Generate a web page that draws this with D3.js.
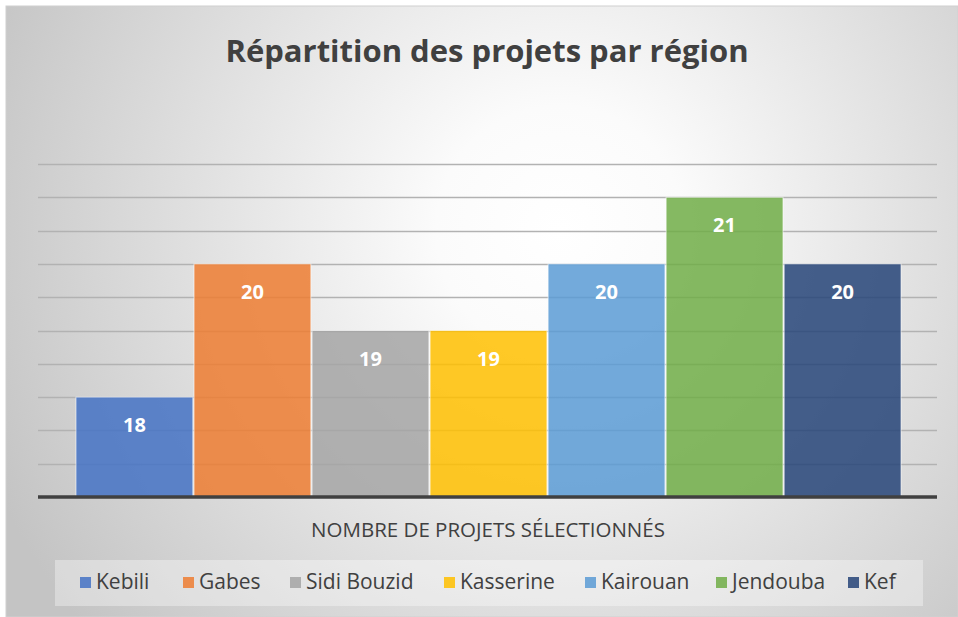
<!DOCTYPE html>
<html>
<head>
<meta charset="utf-8">
<script src="https://cdn.jsdelivr.net/npm/d3@7"></script>
<style>
  body { margin: 0; background: #fff; }
  svg text { font-family: "Open Sans", sans-serif; }
</style>
</head>
<body>
<svg id="chart"></svg>
<script>
const regions = ['Kebili', 'Gabes', 'Sidi Bouzid', 'Kasserine', 'Kairouan', 'Jendouba', 'Kef'];
const projets = [18, 20, 19, 19, 20, 21, 20];
const couleurs = ['#4472C4', '#ED7D31', '#A5A5A5', '#FFC000', '#5B9BD5', '#70AD47', '#264478'];
const yTicks = [17, 17.5, 18, 18.5, 19, 19.5, 20, 20.5, 21, 21.5];
const titre = 'Répartition des projets par région';
const axeTitre = 'NOMBRE DE PROJETS SÉLECTIONNÉS';

const width = 958, height = 617;
const svg = d3.select('#chart').attr('width', width).attr('height', height);

// fond avec dégradé radial
const defs = svg.append('defs');
const grad = defs.append('radialGradient')
    .attr('id', 'bg')
    .attr('gradientUnits', 'userSpaceOnUse')
    .attr('cx', 560).attr('cy', 230).attr('r', 620);
grad.append('stop').attr('offset', '0%').attr('stop-color', '#ffffff');
grad.append('stop').attr('offset', '20%').attr('stop-color', '#fbfbfb');
grad.append('stop').attr('offset', '100%').attr('stop-color', '#c4c4c4');

svg.append('rect')
    .attr('x', 6).attr('y', 6)
    .attr('width', width - 6).attr('height', height - 6)
    .attr('fill', 'url(#bg)')
    .attr('stroke', '#d0d0d0');

const plotLeft = 38, plotRight = 937;

const y = d3.scaleLinear().domain([16.5, 21.5]).range([497, 164]);
const x = d3.scaleBand().domain(regions).range([76, 901]).paddingInner(0.01);
const color = d3.scaleOrdinal().domain(regions).range(couleurs);

// quadrillage
svg.append('g')
    .selectAll('line')
    .data(yTicks)
    .join('line')
    .attr('x1', plotLeft).attr('x2', plotRight)
    .attr('y1', d => Math.round(y(d)) + 0.5)
    .attr('y2', d => Math.round(y(d)) + 0.5)
    .attr('stroke', '#b2b2b2')
    .attr('stroke-width', 1.5);

// barres
svg.append('g')
    .selectAll('rect')
    .data(regions)
    .join('rect')
    .attr('x', d => x(d))
    .attr('y', (d, i) => y(projets[i]))
    .attr('width', x.bandwidth())
    .attr('height', (d, i) => y(16.5) - y(projets[i]))
    .attr('fill', d => color(d))
    .attr('fill-opacity', 0.85)
    .attr('stroke', 'rgba(255,255,255,0.6)')
    .attr('stroke-width', 1);

// étiquettes de valeurs
svg.append('g')
    .selectAll('text')
    .data(regions)
    .join('text')
    .attr('x', d => x(d) + x.bandwidth() / 2)
    .attr('y', (d, i) => y(projets[i]) + 35)
    .attr('text-anchor', 'middle')
    .attr('fill', '#fff')
    .attr('font-weight', 700)
    .attr('font-size', 20)
    .text((d, i) => projets[i]);

// ligne de base
svg.append('line')
    .attr('x1', plotLeft).attr('x2', plotRight)
    .attr('y1', y(16.5)).attr('y2', y(16.5))
    .attr('stroke', '#404040')
    .attr('stroke-width', 3.5);

// titre
svg.append('text')
    .attr('x', 487).attr('y', 62)
    .attr('text-anchor', 'middle')
    .attr('fill', '#404040')
    .attr('font-weight', 700)
    .attr('font-size', 31)
    .text(titre);

// titre de l'axe
svg.append('text')
    .attr('x', 488).attr('y', 537)
    .attr('text-anchor', 'middle')
    .attr('fill', '#404040')
    .attr('font-size', 20.5)
    .text(axeTitre);

// légende
const legend = svg.append('g');
legend.append('rect')
    .attr('x', 55).attr('y', 560)
    .attr('width', 868).attr('height', 46)
    .attr('fill', 'rgba(255,255,255,0.35)');

const legendX = [80, 183, 290, 444, 585, 716, 848];
const item = legend.selectAll('g')
    .data(regions)
    .join('g')
    .attr('transform', (d, i) => `translate(${legendX[i]},582)`);
item.append('rect')
    .attr('x', 0).attr('y', -5)
    .attr('width', 11).attr('height', 11)
    .attr('fill', d => color(d))
    .attr('fill-opacity', 0.85);
item.append('text')
    .attr('x', 16).attr('y', 0)
    .attr('dy', '0.35em')
    .attr('fill', '#404040')
    .attr('font-size', 21)
    .text(d => d);
</script>
</body>
</html>
